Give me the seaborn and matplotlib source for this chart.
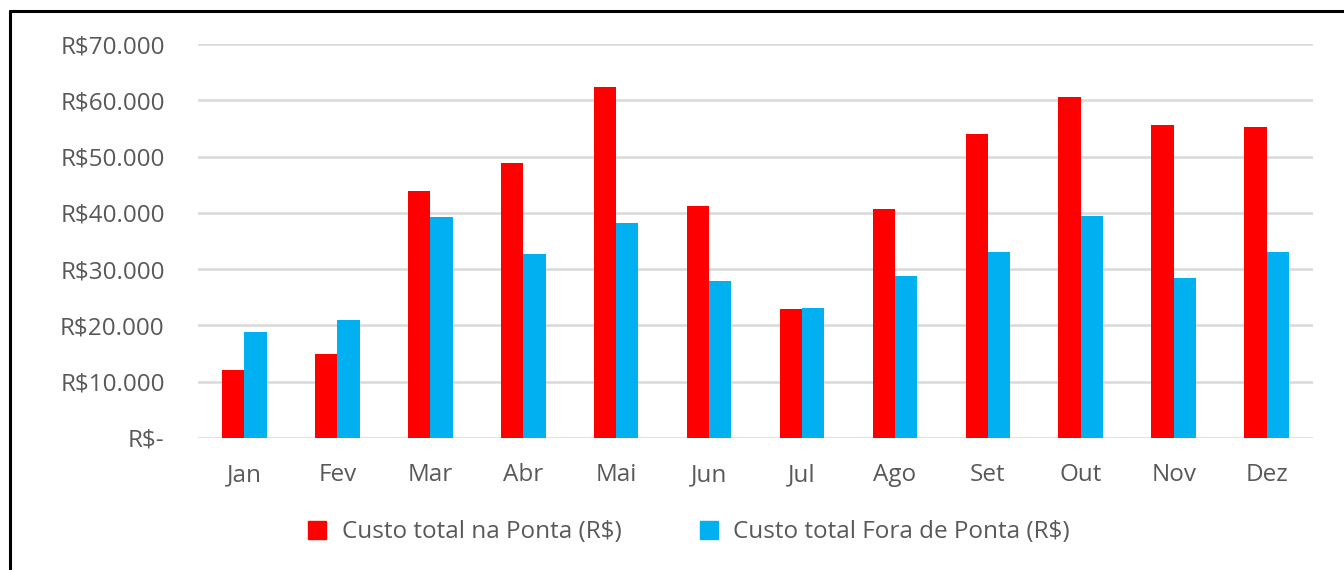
import pandas as pd
import matplotlib.pyplot as plt
import seaborn as sns
from matplotlib.lines import Line2D
from matplotlib.ticker import FuncFormatter

# monthly costs
meses = ["Jan", "Fev", "Mar", "Abr", "Mai", "Jun", "Jul", "Ago", "Set", "Out", "Nov", "Dez"]
custo_ponta = [12100, 14900, 43900, 48900, 62400, 41200, 22900, 40700, 54000, 60600, 55600, 55300]
custo_fora_ponta = [18900, 21000, 39300, 32700, 38200, 27900, 23100, 28700, 33000, 39500, 28400, 33000]
series = ["Custo total na Ponta (R$)", "Custo total Fora de Ponta (R$)"]
cores = ["#FF0000", "#00B0F0"]

df = pd.DataFrame({"mes": meses * 2,
                   "custo": custo_ponta + custo_fora_ponta,
                   "serie": [series[0]] * 12 + [series[1]] * 12})

sns.set_style("white")
plt.rcParams["font.family"] = ["Open Sans", "DejaVu Sans"]
cinza = "#595959"

fig = plt.figure(figsize=(13.44, 5.70), dpi=100)
ax = fig.add_axes([0.1473, 0.2316, 0.977 - 0.1473, 0.9228 - 0.2316])

sns.barplot(data=df, x="mes", y="custo", hue="serie", palette=cores,
            width=0.48, gap=0, saturation=1, linewidth=0, ax=ax, legend=False)

ax.set_ylim(0, 70000)
ax.set_xlim(-0.5, 11.5)
ax.set_yticks(range(0, 70001, 10000))
ax.yaxis.set_major_formatter(FuncFormatter(
    lambda v, p: "R$-" if v == 0 else "R$" + f"{int(v):,}".replace(",", ".")))
ax.grid(axis="y", color="#D9D9D9", linewidth=1.8)
ax.set_axisbelow(True)
sns.despine(ax=ax, left=True, bottom=True)
ax.tick_params(axis="both", length=0, labelsize=17.5, labelcolor=cinza)
ax.tick_params(axis="y", pad=24)
ax.tick_params(axis="x", pad=18)
ax.set_xlabel("")
ax.set_ylabel("")

# legend below the axes
handles = [Line2D([], [], marker="s", linestyle="", markersize=13, color=c) for c in cores]
fig.legend(handles, series, loc="center", bbox_to_anchor=(0.507, 0.066), ncol=2,
           frameon=False, fontsize=17.5, labelcolor=cinza, handletextpad=0.0,
           columnspacing=2.6)

# black frame visible on top and left
fig.add_artist(Line2D([10 / 1344, 1.0], [1 - 11 / 570, 1 - 11 / 570], color="black", linewidth=2.2,
                      transform=fig.transFigure))
fig.add_artist(Line2D([10 / 1344, 10 / 1344], [0, 1 - 11 / 570], color="black", linewidth=2.2,
                      transform=fig.transFigure))

fig.savefig("out.png", dpi=100)
